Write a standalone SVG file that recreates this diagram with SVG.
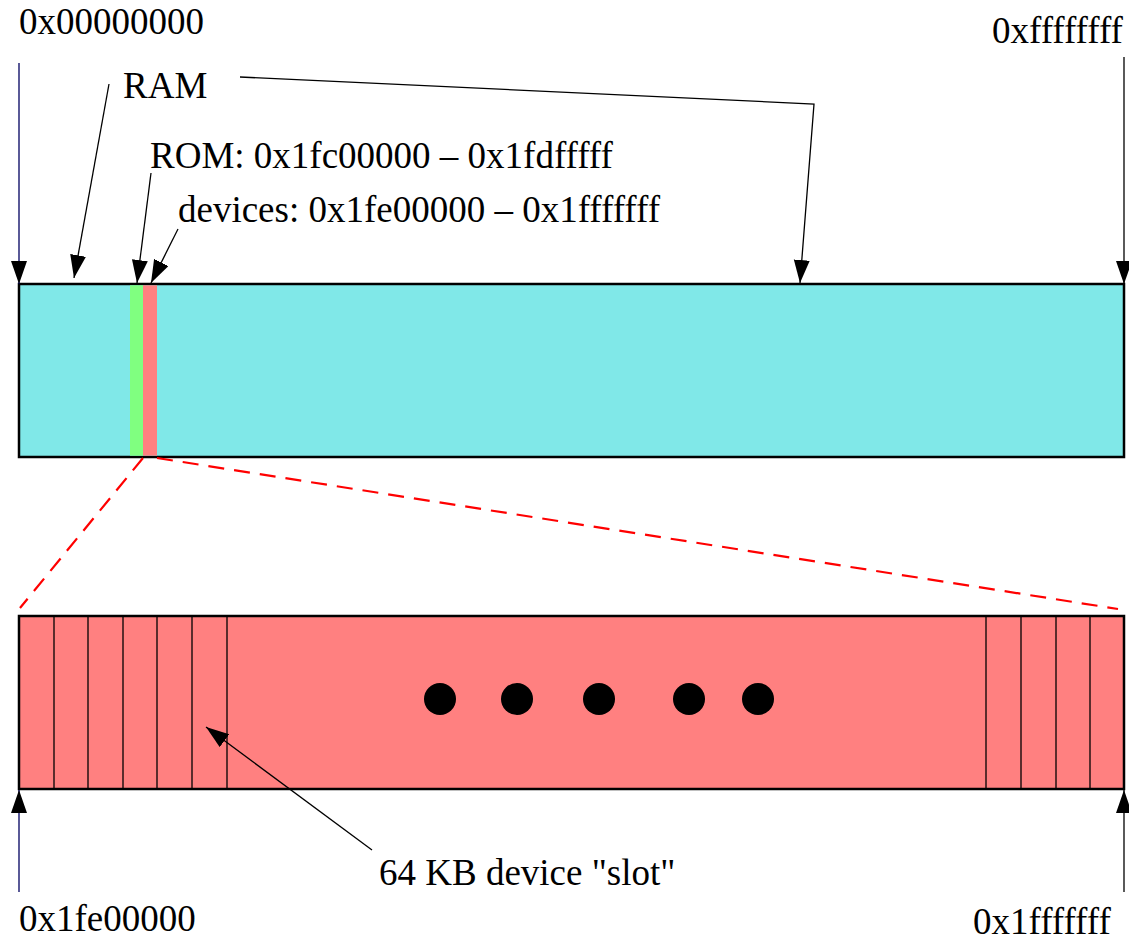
<svg xmlns="http://www.w3.org/2000/svg" width="1129" height="942" viewBox="0 0 1129 942">
<style>
text{font-family:"Liberation Serif","Times New Roman",serif;font-size:37px;fill:#000}
.bar{stroke:#000;stroke-width:2.5}
.div{stroke:#000;stroke-width:1.3}
.conn{fill:none;stroke:#000;stroke-width:1.3}
.navy{stroke:#000060}
.dash{fill:none;stroke:#ff0000;stroke-width:2.2;stroke-dasharray:16 10}
</style>
<defs>
<marker id="ah" markerUnits="userSpaceOnUse" markerWidth="26" markerHeight="18" refX="23" refY="8" orient="auto">
<path d="M0,0 L23,8 L0,16 z" fill="#000"/>
</marker>
</defs>
<g id="address-space">
<rect class="bar" x="19" y="284" width="1105" height="173" fill="#80e8e8"/>
<rect x="130" y="285.3" width="13" height="170.4" fill="#80ff80"/>
<rect x="143" y="285.3" width="14" height="170.4" fill="#ff8080"/>
</g>
<g id="device-region">
<rect class="bar" x="19" y="616" width="1105" height="173" fill="#ff8080"/>
<g class="div">
<line x1="54" y1="616" x2="54" y2="789"/>
<line x1="88" y1="616" x2="88" y2="789"/>
<line x1="123" y1="616" x2="123" y2="789"/>
<line x1="157" y1="616" x2="157" y2="789"/>
<line x1="192" y1="616" x2="192" y2="789"/>
<line x1="227" y1="616" x2="227" y2="789"/>
<line x1="986" y1="616" x2="986" y2="789"/>
<line x1="1021" y1="616" x2="1021" y2="789"/>
<line x1="1056" y1="616" x2="1056" y2="789"/>
<line x1="1090" y1="616" x2="1090" y2="789"/>
</g>
<circle cx="440" cy="699" r="16" fill="#000"/>
<circle cx="517" cy="699" r="16" fill="#000"/>
<circle cx="599" cy="699" r="16" fill="#000"/>
<circle cx="689" cy="699" r="16" fill="#000"/>
<circle cx="758" cy="699" r="16" fill="#000"/>
</g>
<g id="labels">
<text x="19" y="34">0x00000000</text>
<text x="992" y="43">0xffffffff</text>
<text x="123" y="98">RAM</text>
<text x="150" y="168">ROM: 0x1fc00000 – 0x1fdfffff</text>
<text x="178" y="222">devices: 0x1fe00000 – 0x1fffffff</text>
<text x="379" y="885">64 KB device "slot"</text>
<text x="19" y="931">0x1fe00000</text>
<text x="973" y="934">0x1fffffff</text>
</g>
<g id="connectors">
<line class="conn navy" x1="19" y1="63" x2="19" y2="284" marker-end="url(#ah)"/>
<line class="conn" x1="1124" y1="57" x2="1124" y2="284" marker-end="url(#ah)"/>
<line class="conn" x1="109" y1="84" x2="74" y2="278" marker-end="url(#ah)"/>
<polyline class="conn" points="240,77 814,104 800,283" marker-end="url(#ah)"/>
<line class="conn" x1="151" y1="173" x2="137" y2="283" marker-end="url(#ah)"/>
<line class="conn" x1="178" y1="229" x2="151" y2="283" marker-end="url(#ah)"/>
<line class="conn navy" x1="19" y1="892" x2="19" y2="790" marker-end="url(#ah)"/>
<line class="conn" x1="1124" y1="892" x2="1124" y2="790" marker-end="url(#ah)"/>
<line class="conn" x1="372" y1="850" x2="206" y2="727" marker-end="url(#ah)"/>
<line class="dash" x1="143" y1="458" x2="20" y2="608"/>
<line class="dash" x1="157" y1="458" x2="1118" y2="609"/>
</g>
</svg>
